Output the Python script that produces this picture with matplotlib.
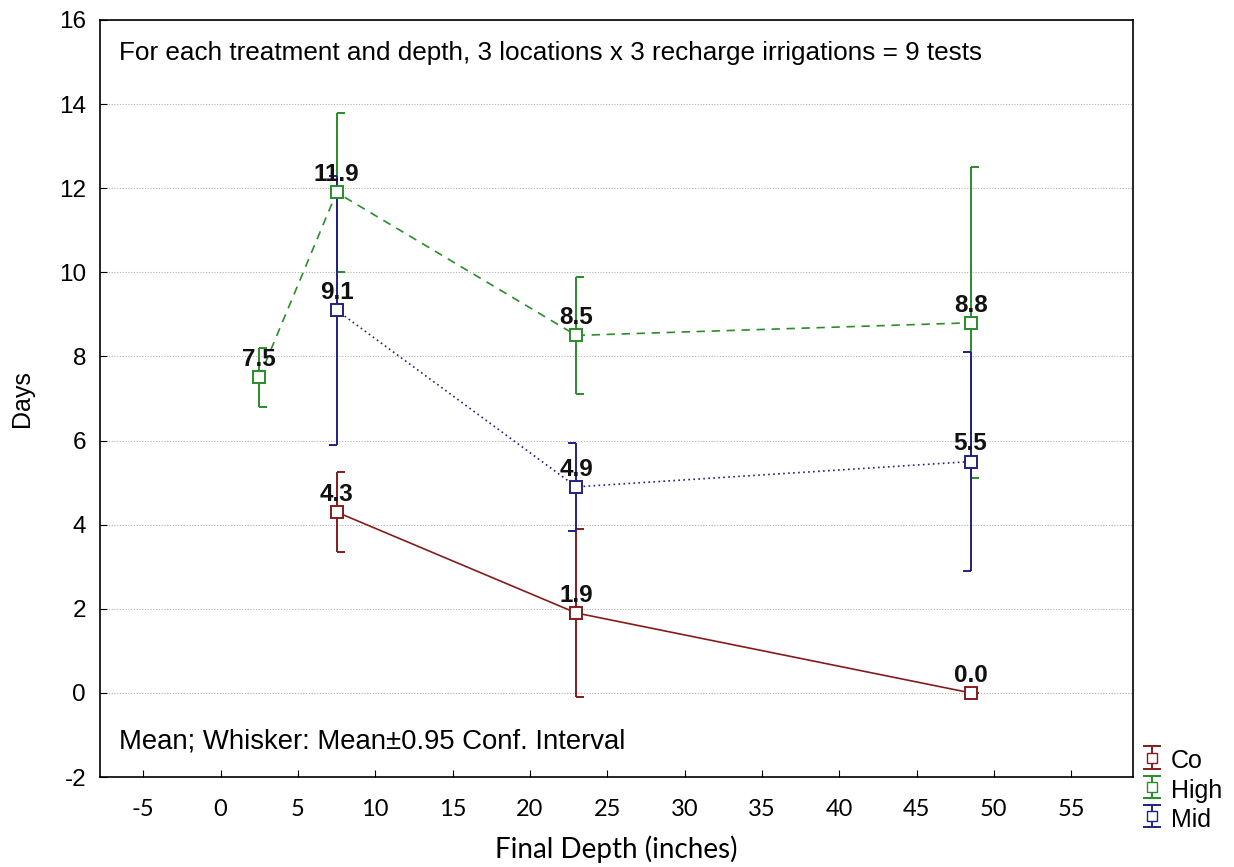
import numpy as np
import matplotlib.pyplot as plt
from matplotlib.path import Path
from matplotlib.legend_handler import HandlerErrorbar

plt.rcParams['font.family'] = ['Liberation Sans', 'DejaVu Sans']
plt.rcParams['axes.unicode_minus'] = False

# depth (inches) per group
co_x = [7.5, 23.0, 48.5]
co_mean = [4.3, 1.9, 0.0]
co_ci = [0.95, 2.0, 0.0]

high_x = [2.5, 7.5, 23.0, 48.5]
high_mean = [7.5, 11.9, 8.5, 8.8]
high_ci = [0.7, 1.9, 1.4, 3.7]

mid_x = [7.5, 23.0, 48.5]
mid_mean = [9.1, 4.9, 5.5]
mid_ci = [3.2, 1.05, 2.6]

groups = ['Co', 'High', 'Mid']
colors = {'Co': '#851c1c', 'High': '#2a8c2a', 'Mid': '#22227f'}
styles = {'Co': '-', 'High': (0, (5, 4)), 'Mid': (0, (1, 2))}

# half caps: one pointing right, one pointing left
cap_right = Path([(0, 0), (1, 0)], [Path.MOVETO, Path.LINETO])
cap_left = Path([(0, 0), (-1, 0)], [Path.MOVETO, Path.LINETO])
cap_side = {'Co': cap_right, 'High': cap_right, 'Mid': cap_left}

fig = plt.figure(figsize=(12.34, 8.67), dpi=100)
ax = fig.add_axes([100 / 1234, 1 - 777 / 867, 1033 / 1234, 757 / 867])

data = {'Co': (co_x, co_mean, co_ci),
        'High': (high_x, high_mean, high_ci),
        'Mid': (mid_x, mid_mean, mid_ci)}

for g in ['High', 'Co', 'Mid']:
    x, m, ci = data[g]
    x = np.array(x)
    m = np.array(m)
    ci = np.array(ci)
    c = colors[g]
    ax.plot(x, m, color=c, ls=styles[g], lw=1.2, zorder=3)
    ax.vlines(x, m - ci, m + ci, color=c, lw=1.4, zorder=2)
    ax.plot(x, m - ci, ls='none', marker=cap_side[g], ms=12, mec=c, mew=1.4, zorder=2)
    ax.plot(x, m + ci, ls='none', marker=cap_side[g], ms=12, mec=c, mew=1.4, zorder=2)
    ax.plot(x, m, ls='none', marker='s', ms=8.5, mfc='white', mec=c, mew=1.4, zorder=4)
    for xi, mi in zip(x, m):
        ax.annotate('%.1f' % mi, (xi, mi), xytext=(0, 8), textcoords='offset points',
                    ha='center', va='baseline', fontsize=17.5, fontweight='bold',
                    color='#111111', zorder=5)

handles = []
for g in groups:
    h = ax.errorbar([np.nan], [np.nan], yerr=[[np.nan], [np.nan]], ls='none', marker='s',
                    ms=7.5, mfc='white', mec=colors[g], color=colors[g], capsize=6.5,
                    elinewidth=1.4, capthick=1.4)
    handles.append(h)

ax.set_xlim(-7.8, 59)
ax.set_ylim(-2, 16)
ax.set_xticks(np.arange(-5, 56, 5))
ax.set_yticks(np.arange(-2, 17, 2))
ax.tick_params(direction='in', length=5)
ax.tick_params(axis='y', labelsize=17.5, pad=10)
ax.tick_params(axis='x', labelsize=17, pad=16)
for lab in ax.get_xticklabels():
    lab.set_family(['Lato', 'DejaVu Sans'])
ax.yaxis.grid(True, color='#b0b0b0', ls=(0, (1, 1.5)), lw=0.8)
ax.set_axisbelow(True)
for sp in ax.spines.values():
    sp.set_linewidth(1.2)

ax.set_xlabel('Final Depth (inches)', fontsize=20, family=['Lato', 'DejaVu Sans'], labelpad=11)
ax.set_ylabel('Days', fontsize=18, labelpad=18)

ax.text(0.018, 0.972, 'For each treatment and depth, 3 locations x 3 recharge irrigations = 9 tests',
        transform=ax.transAxes, ha='left', va='top', fontsize=18.8)
ax.text(0.018, 0.03, 'Mean; Whisker: Mean\u00b10.95 Conf. Interval',
        transform=ax.transAxes, ha='left', va='bottom', fontsize=19.8)

ax.legend(handles, groups, loc='lower left', bbox_to_anchor=(0.997, -0.089), frameon=False,
          fontsize=18, handlelength=0.8, handleheight=1.2, handletextpad=0.35,
          labelspacing=0.12, borderpad=0,
          handler_map={type(handles[0]): HandlerErrorbar(yerr_size=0.45)})

fig.savefig('out.png', dpi=100)
